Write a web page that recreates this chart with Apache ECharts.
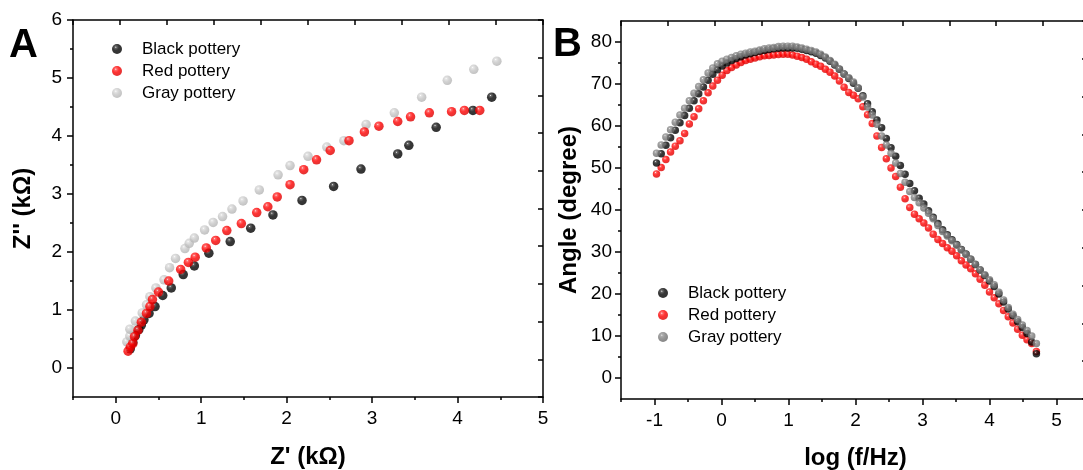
<!DOCTYPE html>
<html>
<head>
<meta charset="utf-8">
<title>Pottery EIS</title>
<script src="https://cdn.jsdelivr.net/npm/echarts@6/dist/echarts.min.js"></script>
<style>
html,body{margin:0;padding:0;background:#fff}
#main{width:1083px;height:470px}
</style>
</head>
<body>
<div id="main"></div>
<script>
// A: Nyquist plot, [Z' (kOhm), Z'' (kOhm)]
var blackA = [[0.17,0.33],[0.20,0.44],[0.23,0.56],[0.27,0.66],[0.30,0.74],[0.33,0.83],[0.39,0.94],[0.46,1.06],
  [0.55,1.25],[0.65,1.38],[0.79,1.61],[0.92,1.76],[1.09,1.98],[1.34,2.18],[1.58,2.41],[1.84,2.64],[2.18,2.89],
  [2.55,3.13],[2.87,3.43],[3.30,3.69],[3.43,3.84],[3.75,4.15],[4.18,4.44],[4.40,4.67]];
var redA = [[0.145,0.29],[0.17,0.36],[0.20,0.42],[0.22,0.54],[0.26,0.65],[0.30,0.79],[0.36,0.94],[0.40,1.06],
  [0.43,1.18],[0.50,1.31],[0.62,1.50],[0.76,1.70],[0.85,1.82],[0.93,1.91],[1.06,2.07],[1.17,2.20],[1.30,2.37],
  [1.47,2.49],[1.65,2.68],[1.78,2.78],[1.89,2.95],[2.04,3.16],[2.20,3.42],[2.35,3.59],[2.51,3.75],[2.73,3.92],
  [2.91,4.07],[3.08,4.17],[3.30,4.25],[3.45,4.33],[3.67,4.40],[3.93,4.42],[4.08,4.44],[4.26,4.44]];
var grayA = [[0.13,0.45],[0.165,0.55],[0.165,0.67],[0.23,0.81],[0.31,0.95],[0.36,1.09],[0.40,1.23],[0.47,1.38],
  [0.565,1.52],[0.63,1.73],[0.70,1.89],[0.81,2.06],[0.86,2.15],[0.92,2.24],[1.04,2.38],[1.14,2.51],[1.25,2.61],
  [1.36,2.74],[1.49,2.88],[1.68,3.07],[1.90,3.33],[2.04,3.49],[2.25,3.65],[2.47,3.81],[2.67,3.92],[2.93,4.20],
  [3.26,4.40],[3.58,4.67],[3.88,4.96],[4.19,5.15],[4.46,5.29]];

// B: phase angle vs log(f/Hz)
var logF = [-0.97,-0.90,-0.83,-0.76,-0.69,-0.62,-0.55,-0.48,-0.41,-0.34,
  -0.27,-0.20,-0.13,-0.06,0.01,0.08,0.15,0.22,0.29,0.36,
  0.43,0.50,0.57,0.64,0.71,0.78,0.85,0.92,0.99,1.06,
  1.13,1.20,1.27,1.34,1.41,1.48,1.55,1.62,1.69,1.76,
  1.83,1.90,1.97,2.04,2.11,2.18,2.25,2.32,2.39,2.46,
  2.53,2.60,2.67,2.74,2.81,2.88,2.95,3.02,3.09,3.16,
  3.23,3.30,3.37,3.44,3.51,3.58,3.65,3.72,3.79,3.86,
  3.93,4.00,4.07,4.14,4.21,4.28,4.35,4.42,4.49,4.56,
  4.63,4.70];
var blackB = [51.2,53.4,55.4,57.2,59.0,60.8,62.5,64.2,66.0,67.7,
  69.3,70.9,72.3,73.4,74.3,75.0,75.6,76.1,76.5,76.9,
  77.2,77.5,77.8,78.0,78.2,78.4,78.5,78.6,78.6,78.6,
  78.5,78.3,78.0,77.7,77.3,76.8,76.2,75.4,74.5,73.5,
  72.4,71.3,70.2,69.0,67.2,65.3,63.4,61.4,59.6,57.0,
  54.8,52.8,50.6,48.5,46.3,44.6,42.8,41.4,39.8,38.3,
  36.8,35.3,34.1,32.9,31.8,30.6,29.5,28.3,27.0,25.7,
  24.4,23.1,21.8,20.0,18.1,16.4,14.8,13.4,12.0,10.6,
  8.6,5.8];
var redB = [48.6,50.1,52.0,53.8,55.2,56.5,58.2,60.5,62.2,64.1,
  66.0,67.9,69.5,70.9,72.1,73.2,73.9,74.5,75.1,75.6,
  75.9,76.2,76.5,76.7,76.8,76.9,77.0,77.1,77.1,76.9,
  76.6,76.3,75.9,75.3,74.7,74.2,73.5,72.8,71.9,70.7,
  69.2,68.0,67.3,66.5,64.6,62.7,60.6,57.6,54.9,52.2,
  50.0,48.0,45.4,42.7,40.6,39.0,37.9,36.9,35.7,34.2,
  33.0,32.0,31.0,30.2,29.1,27.9,26.9,26.0,24.8,23.5,
  22.1,20.5,19.1,17.7,16.1,14.6,13.1,11.6,10.2,9.1,
  8.2,6.3];
var grayB = [53.5,55.5,57.4,59.1,60.9,62.6,64.2,66.0,67.8,69.4,
  71.0,72.6,73.8,74.8,75.4,75.9,76.3,76.7,77.1,77.3,
  77.6,77.8,78.1,78.4,78.6,78.7,78.9,79.0,79.0,79.0,
  78.8,78.6,78.3,78.0,77.6,77.1,76.4,75.6,74.7,73.6,
  72.4,71.5,70.5,69.1,66.9,64.5,62.6,60.4,57.6,55.5,
  53.5,51.2,48.7,46.6,44.4,43.0,41.7,40.5,39.2,37.9,
  36.3,34.9,33.8,32.7,31.6,30.5,29.4,28.3,27.1,25.8,
  24.6,23.4,22.2,20.4,18.6,16.8,15.2,13.9,12.6,11.3,
  10.0,8.2];

// tick values
var xTicksA = [0,1,2,3,4,5];
var xMinorA = [-0.5,0.5,1.5,2.5,3.5,4.5];
var yTicksA = [0,1,2,3,4,5,6];
var yMinorA = [0.5,1.5,2.5,3.5,4.5,5.5];
var xTicksB = [-1,0,1,2,3,4,5];
var xMinorB = [-1.5,-0.5,0.5,1.5,2.5,3.5,4.5];
var yTicksB = [0,10,20,30,40,50,60,70,80];
var yMinorB = [5,15,25,35,45,55,65,75];
var frameTicks = [0,1,2,3,4,5,6,7,8,9,10];

var FONT = '"Liberation Sans", Arial, sans-serif';

// shaded "ball" markers like the Origin plot
function ball(c0, c1, c2, c3) {
  return {type:'radial', x:0.38, y:0.32, r:0.7,
    colorStops:[{offset:0, color:c0}, {offset:0.14, color:c1}, {offset:0.45, color:c2}, {offset:1, color:c3}]};
}
var cBlack = ball('#f2f2f2', '#404040', '#050505', '#000000');
var cRed = ball('#fff0f0', '#ff4848', '#ff0000', '#d80000');
var cLight = ball('#ffffff', '#dedede', '#c8c8c8', '#b2b2b2');
var cGray = ball('#f0f0f0', '#9a9a9a', '#808080', '#666666');

function axis(grid, pos, min, max, ticks, len, o) {
  o = o || {};
  return {
    type:'value', gridIndex:grid, position:pos, min:min, max:max,
    axisLine:{show:o.line !== false, onZero:false, lineStyle:{color:'#000', width:1.5}},
    axisTick:{show:true, customValues:ticks, length:len, inside:!!o.inside,
      lineStyle:{color:'#000', width:1.5}},
    axisLabel:{show:!!o.label, customValues:ticks, margin:o.margin || 10,
      color:'#000', fontSize:19, fontFamily:FONT},
    splitLine:{show:false},
    name:o.name || '', nameLocation:'middle', nameGap:o.gap || 0,
    nameTextStyle:{color:'#000', fontSize:24, fontWeight:'bold', fontFamily:FONT}
  };
}

function legendFor(left, top, gray) {
  return {
    orient:'vertical', left:left, top:top, padding:0, itemGap:4,
    icon:'circle', itemWidth:10, itemHeight:10, selectedMode:false,
    textStyle:{color:'#000', fontSize:17, fontFamily:FONT, lineHeight:18, padding:[0,0,0,15]},
    data:[
      {name:'Black pottery', itemStyle:{color:cBlack}},
      {name:'Red pottery', itemStyle:{color:cRed}},
      {name:'Gray pottery', itemStyle:{color:gray}}
    ]
  };
}

var chart = echarts.init(document.getElementById('main'));

var option = {
  animation:false,
  backgroundColor:'#fff',
  grid:[
    {left:73, top:20, width:470, height:377, outerBoundsMode:'none'},
    {left:621, top:21, width:469, height:378, outerBoundsMode:'none'}
  ],
  legend:[legendFor(112, 40, cLight), legendFor(658, 284, cGray)],
  xAxis:[
    axis(0, 'bottom', -0.5, 5, xTicksA, 6, {label:true, margin:12, name:"Z' (k\u03A9)", gap:48}),
    axis(0, 'bottom', -0.5, 5, xMinorA, 3, {line:false}),
    axis(0, 'top', 0, 10, frameTicks, 5, {inside:true}),
    axis(1, 'bottom', -1.5, 5.5, xTicksB, 6, {label:true, margin:12, name:'log (f/Hz)', gap:47}),
    axis(1, 'bottom', -1.5, 5.5, xMinorB, 3, {line:false}),
    axis(1, 'top', 0, 10, frameTicks, 5, {inside:true})
  ],
  yAxis:[
    axis(0, 'left', -0.5, 6, yTicksA, 6, {label:true, margin:11, name:"Z'' (k\u03A9)", gap:38}),
    axis(0, 'left', -0.5, 6, yMinorA, 3, {line:false}),
    axis(0, 'right', 0, 10, frameTicks, 5, {inside:true}),
    axis(1, 'left', -5, 85, yTicksB, 6, {label:true, margin:9, name:'Angle (degree)', gap:40}),
    axis(1, 'left', -5, 85, yMinorB, 3, {line:false}),
    axis(1, 'right', 0, 10, frameTicks, 8, {inside:true})
  ],
  graphic:[
    {type:'text', left:9, top:26, style:{text:'A', fill:'#000', font:'bold 40px ' + FONT}},
    {type:'text', left:553, top:25, style:{text:'B', fill:'#000', font:'bold 40px ' + FONT}}
  ],
  series:[
    {name:'Black pottery', type:'scatter', xAxisIndex:0, yAxisIndex:0, symbolSize:9.5,
      itemStyle:{color:cBlack}, data:blackA},
    {name:'Gray pottery', type:'scatter', xAxisIndex:0, yAxisIndex:0, symbolSize:9.5,
      itemStyle:{color:cLight}, data:grayA},
    {name:'Red pottery', type:'scatter', xAxisIndex:0, yAxisIndex:0, symbolSize:9.5,
      itemStyle:{color:cRed}, data:redA},
    {name:'Red pottery', type:'scatter', xAxisIndex:3, yAxisIndex:3, symbolSize:7.5,
      itemStyle:{color:cRed}, data:logF.map(function (x, i) { return [x, redB[i]]; })},
    {name:'Black pottery', type:'scatter', xAxisIndex:3, yAxisIndex:3, symbolSize:7.5,
      itemStyle:{color:cBlack}, data:logF.map(function (x, i) { return [x, blackB[i]]; })},
    {name:'Gray pottery', type:'scatter', xAxisIndex:3, yAxisIndex:3, symbolSize:7.5,
      itemStyle:{color:cGray}, data:logF.map(function (x, i) { return [x, grayB[i]]; })}
  ]
};

chart.setOption(option);
</script>
</body>
</html>
